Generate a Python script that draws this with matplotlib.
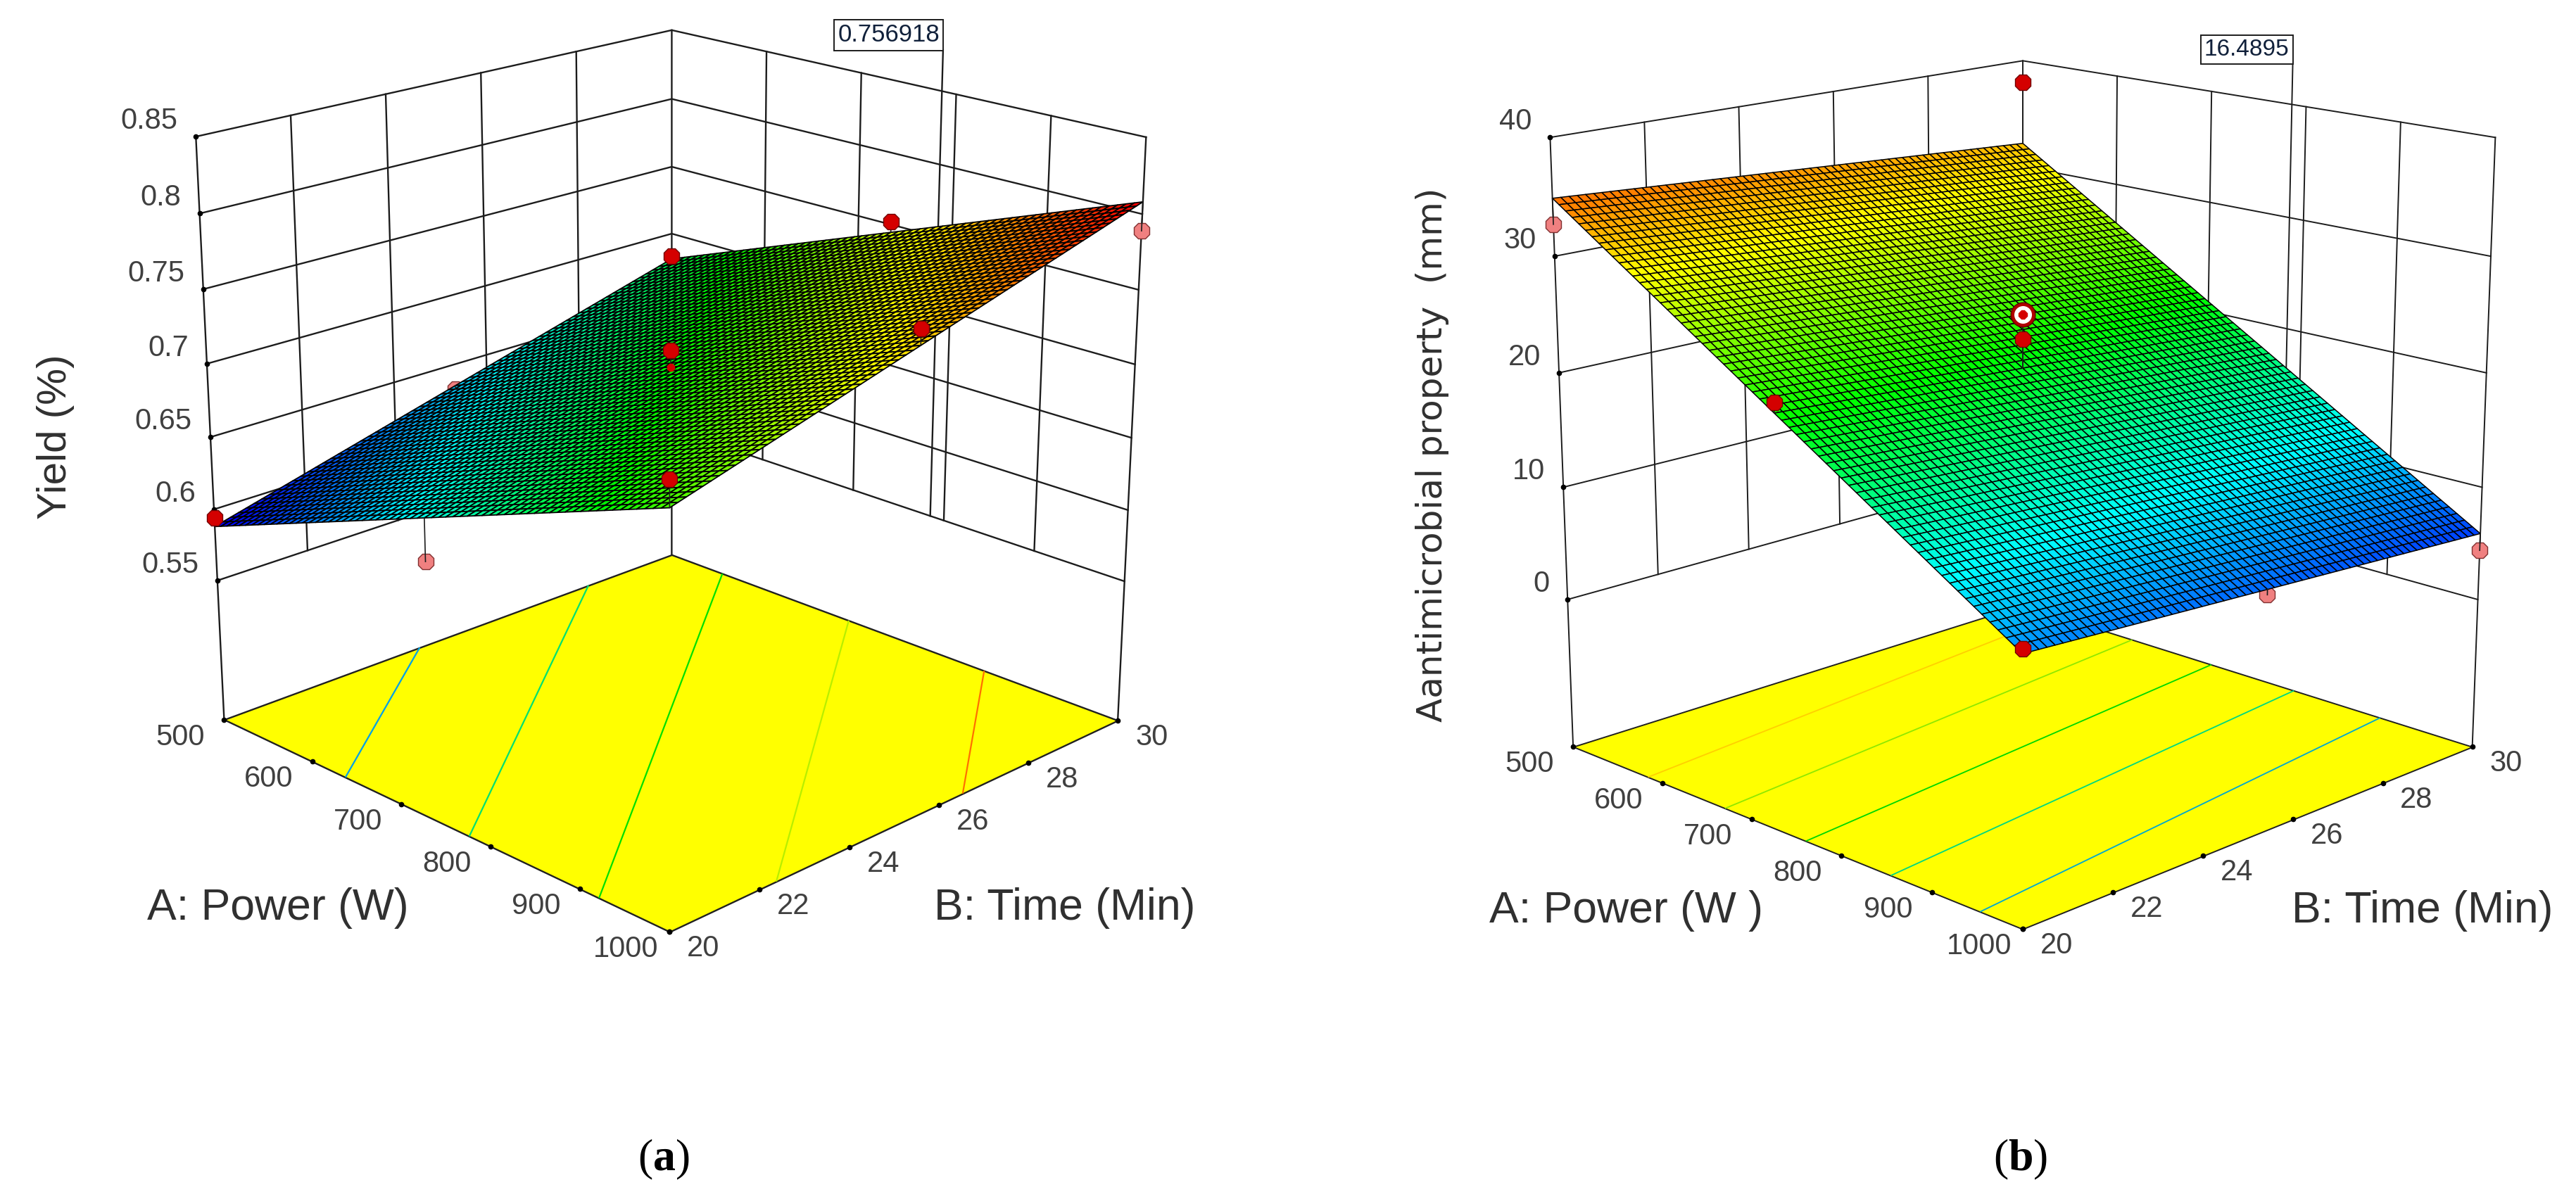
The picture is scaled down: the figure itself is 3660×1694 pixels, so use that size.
import numpy as np
import matplotlib
matplotlib.use("Agg")
import matplotlib.pyplot as plt
from matplotlib.colors import LinearSegmentedColormap, Normalize
from mpl_toolkits.mplot3d import proj3d

plt.rcParams['font.family'] = ['Liberation Sans', 'DejaVu Sans']
plt.rcParams['mathtext.fontset'] = 'custom'
plt.rcParams['mathtext.bf'] = 'Liberation Serif:bold'

W, H = 3660, 1694

# axis ticks
power_ticks = [500, 600, 700, 800, 900, 1000]
time_ticks = [20, 22, 24, 26, 28, 30]
yield_ticks = [0.55, 0.6, 0.65, 0.7, 0.75, 0.8, 0.85]
yield_labels = ['0.55', '0.6', '0.65', '0.7', '0.75', '0.8', '0.85']
anti_ticks = [0, 10, 20, 30, 40]
anti_labels = ['0', '10', '20', '30', '40']

# fitted planes, z = start + k_power * (0..1) + k_time * (0..1)
yield_plane = [0.588, 0.127, 0.093]
anti_plane = [34.9, -26.3, -2.7]

# design points
yield_pt_power = [500, 750, 1000, 750, 1000, 500, 500, 750, 1000]
yield_pt_time = [30, 25, 20, 30, 25, 20, 25, 20, 30]
yield_pt_value = [0.683, 0.709, 0.732, 0.752, 0.772, 0.594, 0.632, 0.623, 0.789]
anti_pt_power = [500, 750, 750, 750, 1000, 500, 1000, 1000]
anti_pt_time = [30, 25, 25, 20, 20, 20, 25, 30]
anti_pt_value = [38.0, 25.0, 22.9, 22.6, 9.0, 32.7, 6.8, 4.4]

# contour levels on the floor
yield_levels = [0.626, 0.662, 0.697, 0.735, 0.773]
yield_level_colors = ['#00a0e8', '#00e070', '#00e000', '#b8ee00', '#ff7000']
anti_levels = [10.8, 15.6, 20.4, 25.2, 30.0]
anti_level_colors = ['#00a8d0', '#00d880', '#00d800', '#90e800', '#ffd000']

rsm = LinearSegmentedColormap.from_list('rsm', ['#0000ff', '#00ffff', '#00ff00', '#ffff00', '#ff0000'])


def set_view(ax, elev, azim, focal, zratio, zf, ztop, scale, cx, cy):
    ax.view_init(elev=elev, azim=azim, roll=0)
    ax.set_proj_type('persp', focal_length=focal)
    ax.set_box_aspect((1, 1, zratio), zoom=0.9)
    ax.set_xlim(500, 1000)
    ax.set_ylim(20, 30)
    ax.set_zlim(zf, ztop)
    # 2D limits of a 3D axes live in viewLim, get_xlim gives the 3D ones
    x0, x1 = ax.viewLim.intervalx
    y0 = ax.viewLim.intervaly[0]
    w = scale * (x1 - x0)
    ax.set_position([(cx + x0 * scale) / W, (H - cy + y0 * scale) / H, w / W, w / H])
    ax.set_axis_off()
    ax.patch.set_visible(False)


def tick_pos(ticks, r):
    # the reference spaces its ticks evenly on screen, so undo the perspective for them
    t = np.array(ticks, dtype=float)
    f = (t - t[0]) / (t[-1] - t[0])
    return t[0] + f * r / (1 + f * (r - 1)) * (t[-1] - t[0])


def mark_text(ax, a, b, z, text, dx, dy, **kw):
    x, y, _ = proj3d.proj_transform(a, b, z, ax.get_proj())
    return ax.annotate(text, xy=(x, y), xytext=(dx, dy), textcoords='offset pixels',
                       annotation_clip=False, va='center', **kw)


def draw_panel(ax, ztop, zf, zticks, zlabels, plane, norm, levels, level_colors,
               pt_power, pt_time, pt_value, lw, mesh_lw, n_cells, flag, flag_top, flag_size):
    line = dict(color='#1c1c1c', lw=lw, zorder=1)
    zlow = zticks[0]
    power_pos = tick_pos(power_ticks, 1.13)
    time_pos = tick_pos(time_ticks, 0.88)
    flag_pos = tick_pos([500, 785, 1000], 1.13)[1]
    # walls
    for t in time_pos[1:-1]:
        ax.plot([500, 500], [t, t], [zlow, ztop], **line)
    for p in power_pos[1:-1]:
        ax.plot([p, p], [30, 30], [zlow, ztop], **line)
    for z in zticks:
        ax.plot([500, 500, 1000], [20, 30, 30], [z, z, z], **line)
    ax.plot([500, 500], [20, 20], [zf, ztop], **line)
    ax.plot([500, 500], [30, 30], [zf, ztop], **line)
    ax.plot([1000, 1000], [30, 30], [zf, ztop], **line)

    # flag line behind the surface
    ax.plot([flag_pos, flag_pos], [30, 30], [zlow, flag_top], **line)

    # floor
    fa, fb = np.meshgrid([500, 1000], [20, 30])
    ax.plot_surface(fa, fb, np.full(fa.shape, zf), color='#ffff00', shade=False,
                    edgecolor='#202020', linewidth=lw, zorder=2)

    pa = np.linspace(500, 1000, n_cells + 1)
    pb = np.linspace(20, 30, n_cells + 1)
    A, B = np.meshgrid(pa, pb)
    Z = plane[0] + plane[1] * (A - 500) / 500 + plane[2] * (B - 20) / 10
    ax.contour(A, B, Z, levels=levels, colors=level_colors, zdir='z', offset=zf,
               linewidths=lw * 0.95, zorder=3)

    # tick dots
    for p in power_pos:
        ax.plot([p], [20], [zf], marker='o', ms=4.5, color='black', zorder=3)
    for t in time_pos:
        ax.plot([1000], [t], [zf], marker='o', ms=4.5, color='black', zorder=3)
    for z in zticks:
        ax.plot([500], [20], [z], marker='o', ms=4.5, color='black', zorder=3)

    # surface
    pt_power = np.array(pt_power)
    pt_time = np.array(pt_time)
    pt_value = np.array(pt_value)
    fit = plane[0] + plane[1] * (pt_power - 500) / 500 + plane[2] * (pt_time - 20) / 10
    under = pt_value < fit
    for a, b, z in zip(pt_power[under], pt_time[under], pt_value[under]):
        ax.plot([a], [b], [z], marker='8', ms=17, mfc='#f08080', mec='#803030', mew=1, zorder=4)
    ax.plot_surface(A, B, Z, facecolors=rsm(norm(Z)), rstride=1, cstride=1, shade=False,
                    edgecolor='black', linewidth=mesh_lw, zorder=5)
    for a, b, z, s in zip(pt_power, pt_time, pt_value, fit):
        ax.plot([a, a], [b, b], [z, s], color='#1c1c1c', lw=1.2, zorder=6)
    for a, b, z in zip(pt_power[~under], pt_time[~under], pt_value[~under]):
        ax.plot([a], [b], [z], marker='8', ms=17, mfc='#d40000', mec='#700000', mew=1, zorder=7)

    # text
    tick_font = dict(fontsize=30, color='#404040')
    for z, s in zip(zticks, zlabels):
        mark_text(ax, 500, 20, z, s, -26, 22, ha='right', **tick_font)
    for p, s in zip(power_pos, power_ticks):
        mark_text(ax, p, 20, zf, str(s), -62, -25, ha='center', **tick_font)
    for t, s in zip(time_pos, time_ticks):
        mark_text(ax, 1000, t, zf, str(s), 48, -24, ha='center', **tick_font)
    x, y, _ = proj3d.proj_transform(flag_pos, 30, flag_top, ax.get_proj())
    ax.annotate(flag, xy=(x, y), xytext=(-5, 5), textcoords='offset pixels', ha='right', va='bottom',
                fontsize=flag_size, color='#10203a', annotation_clip=False, zorder=9,
                bbox=dict(boxstyle='square,pad=0.15', fc='white', ec='#1c1c1c', lw=1.4))


def fig_text(x, y, s, **kw):
    fig.text(x / W, 1 - y / H, s, ha='center', va='center', **kw)


fig = plt.figure(figsize=(W / 100, H / 100), dpi=100)

ax1 = fig.add_subplot(121, projection='3d', computed_zorder=False)
ax2 = fig.add_subplot(122, projection='3d', computed_zorder=False)

yield_floor = 0.4501
anti_floor = -13.40
set_view(ax1, 19.7164, -44.8705, 0.5261, 0.9504, yield_floor, 0.85, 9192.87, 953.1, 621.57)
set_view(ax2, 15.7364, -44.9858, 0.5272, 0.9711, anti_floor, 40, 9261.1, 2873.86, 639.1)

draw_panel(ax1, 0.85, yield_floor, yield_ticks, yield_labels, yield_plane, Normalize(0.59, 0.805),
           yield_levels, yield_level_colors, yield_pt_power, yield_pt_time, yield_pt_value,
           1.7, 1.3, 64, '0.756918', 0.8775, 25)
draw_panel(ax2, 40, anti_floor, anti_ticks, anti_labels, anti_plane, Normalize(4, 39),
           anti_levels, anti_level_colors, anti_pt_power, anti_pt_time, anti_pt_value,
           1.4, 1.1, 64, '16.4895', 43.5, 24)

# second center point of panel a, mostly behind the mesh
ax1.plot([750], [25], [0.698], marker='8', ms=8, color='#d40000', zorder=7)
# selected point of panel b
ax2.plot([750], [25], [25.0], marker='o', ms=25, mfc='#b00000', mec='#600000', zorder=8)
ax2.plot([750], [25], [25.0], marker='o', ms=17, color='white', zorder=8)
ax2.plot([750], [25], [25.0], marker='8', ms=9, color='#d40000', zorder=8)

label_font = dict(fontsize=45, color='#303030')
fig_text(79, 621, 'Yield (%)', rotation=90, fontsize=42, color='#303030')
fig_text(395, 1290, 'A: Power (W)', **label_font)
fig_text(1513, 1290, 'B: Time (Min)', **label_font)
fig_text(2035, 646, 'Aantimicrobial property  (mm)', rotation=90, fontsize=36, color='#303030', family='DejaVu Sans')
fig_text(2310, 1294, 'A: Power (W )', **label_font)
fig_text(3442, 1294, 'B: Time (Min)', **label_font)

serif = dict(fontsize=46, family='Liberation Serif', color='black')
fig_text(943, 1648, r'($\mathbf{a}$)', **serif)
fig_text(2871, 1648, r'($\mathbf{b}$)', **serif)

fig.savefig('out.png', dpi=100)
